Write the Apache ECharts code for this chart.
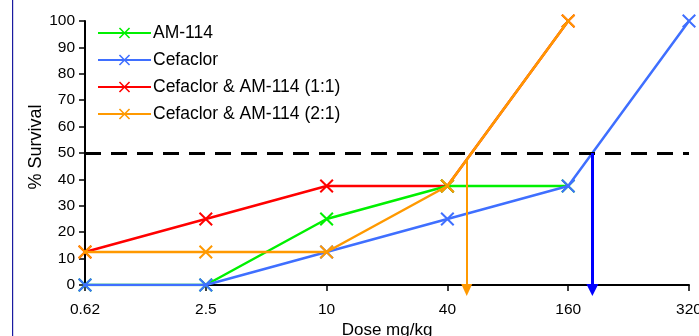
<!DOCTYPE html>
<html>
<head>
<meta charset="utf-8">
<script src="https://cdn.jsdelivr.net/npm/echarts@6/dist/echarts.min.js"></script>
<style>
html,body{margin:0;padding:0;background:#fff;overflow:hidden;width:699px;height:336px;}
#c{width:699px;height:336px;}
</style>
</head>
<body>
<div id="c"></div>
<script>
const doseLabels = ['0.62', '2.5', '10', '40', '160', '320'];
const am114 = [0, 0, 25, 37.5, 37.5, null];
const cefaclor = [0, 0, 12.5, 25, 37.5, 100];
const combo11 = [12.5, 25, 37.5, 37.5, 100, null];
const combo21 = [12.5, 12.5, 12.5, 37.5, 100, null];
const seriesNames = ['AM-114', 'Cefaclor', 'Cefaclor & AM-114 (1:1)', 'Cefaclor & AM-114 (2:1)'];
const ed50Level = 50;
const ed50Orange = 3.16;  // position on dose index axis
const ed50Blue = 4.2;

const FONT = 'Liberation Sans, Arial, sans-serif';
const X = 'path://M0,1 L1,0 L5,4 L9,0 L10,1 L6,5 L10,9 L9,10 L5,6 L1,10 L0,9 L4,5 Z';
function pts(arr){ return arr.map((v,i)=> v===null ? null : [i, v]).filter(p=>p); }
function lineSeries(name, data, color, z){
  return {
    name: name, type: 'line', data: pts(data), z: z,
    symbol: X, symbolSize: 14,
    lineStyle: {color: color, width: 2.5},
    itemStyle: {color: color},
    emphasis: {disabled: true},
    animation: false
  };
}
const chart = echarts.init(document.getElementById('c'));
chart.setOption({
  animation: false,
  graphic: [{type: 'rect', left: 12, top: 0, shape: {width: 1.2, height: 336}, style: {fill: '#1a1aa0'}, z: 100}],
  grid: {left: 85, right: 10, top: 21, bottom: 51, containLabel: false, outerBoundsMode: 'none'},
  legend: {
    data: seriesNames,
    orient: 'vertical', left: 92, top: 19,
    itemWidth: 53, itemHeight: 14, itemGap: 9,
    textStyle: {fontFamily: FONT, fontSize: 17.5, color: '#000', padding: [0,0,0,-3]}
  },
  xAxis: {
    type: 'value', min: 0, max: 5, interval: 1,
    name: 'Dose mg/kg', nameLocation: 'middle', nameGap: 37, nameMoveOverlap: false,
    nameTextStyle: {fontFamily: FONT, fontSize: 17, color: '#000'},
    axisLine: {show: true, lineStyle: {color: '#000', width: 2}},
    axisTick: {show: true, length: 6, lineStyle: {color: '#000', width: 1.5}},
    axisLabel: {formatter: v => doseLabels[v] || '', fontFamily: FONT, fontSize: 15.5, color: '#000', margin: 17},
    splitLine: {show: false}
  },
  yAxis: {
    type: 'value', min: 0, max: 100, interval: 10,
    name: '% Survival', nameLocation: 'middle', nameGap: 40, nameMoveOverlap: false,
    nameTextStyle: {fontFamily: FONT, fontSize: 18, color: '#000', padding: [0, 0, 0, 12]},
    axisLine: {show: true, lineStyle: {color: '#000', width: 2}},
    axisTick: {show: true, inside: false, length: 6, lineStyle: {color: '#000', width: 1.5}},
    axisLabel: {fontFamily: FONT, fontSize: 15.5, color: '#000', margin: 10},
    splitLine: {show: false}
  },
  series: [
    {
      type: 'line', data: [], z: 1, silent: true,
      markLine: {
        silent: true, animation: false, label: {show: false},
        data: [
          [{coord: [0, ed50Level], symbol: 'none', lineStyle: {color: '#000', width: 3, type: [16, 10]}},
           {coord: [5, ed50Level], symbol: 'none'}],
          [{coord: [ed50Orange, ed50Level - 2], symbol: 'none', lineStyle: {color: '#ff9900', width: 2, type: 'solid'}},
           {coord: [ed50Orange, 0], symbol: 'triangle', symbolSize: [11, 12], symbolOffset: [0, -5]}],
          [{coord: [ed50Blue, ed50Level], symbol: 'none', lineStyle: {color: '#0000ff', width: 3, type: 'solid'}},
           {coord: [ed50Blue, 0], symbol: 'triangle', symbolSize: [12, 12], symbolOffset: [0, -5]}]
        ]
      }
    },
    lineSeries(seriesNames[2], combo11, '#ff0000', 2),
    lineSeries(seriesNames[0], am114, '#00f000', 3),
    lineSeries(seriesNames[1], cefaclor, '#3f6fff', 4),
    lineSeries(seriesNames[3], combo21, '#ff9900', 5)
  ]
});
</script>
</body>
</html>
